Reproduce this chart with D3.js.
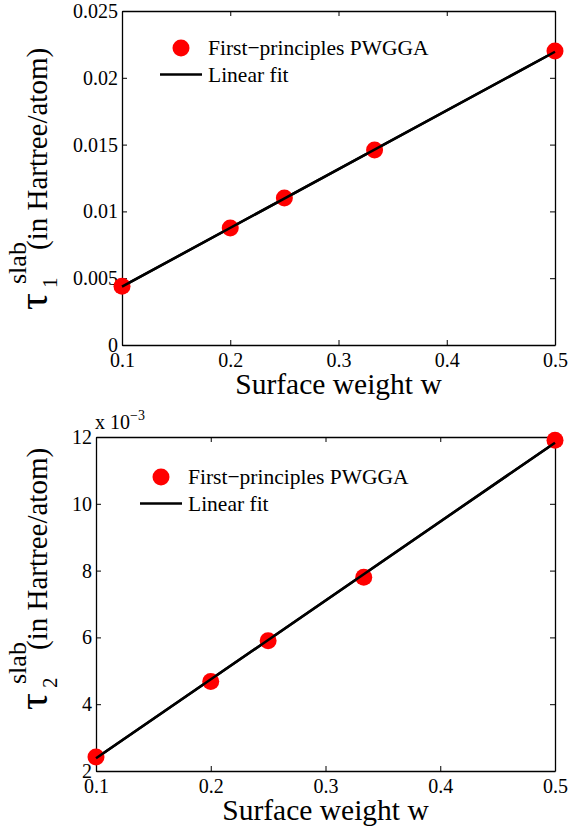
<!DOCTYPE html>
<html>
<head>
<meta charset="utf-8">
<script src="https://d3js.org/d3.v7.min.js"></script>
<style>
  body { margin: 0; background: #fff; }
</style>
</head>
<body>
<div id="chart"></div>
<script>
(function() {
    var width = 568, height = 832;
    var serif = "'Liberation Serif', 'Times New Roman', serif";

    // surface weights w (shared by both panels)
    var weights = [0.1, 0.2, 0.25, 1 / 3, 0.5];
    var xTicks = [0.1, 0.2, 0.3, 0.4, 0.5];

    // panel 1: tau1 slab
    var tau1 = [0.0044, 0.00876, 0.0110, 0.0146, 0.0220];
    var fit1 = [[0.1, 0.00437], [0.5, 0.02195]];
    var yTicks1 = [0, 0.005, 0.01, 0.015, 0.02, 0.025];

    // panel 2: tau2 slab (x 10^-3)
    var tau2 = [2.42, 4.68, 5.9, 7.8, 11.9];
    var fit2 = [[0.1, 2.38], [0.5, 11.83]];
    var yTicks2 = [2, 4, 6, 8, 10, 12];

    var legendLabels = ["First\u2212principles PWGGA", "Linear fit"];

    var svg = d3.select("#chart")
        .append("svg")
        .attr("width", width)
        .attr("height", height)

    function panel(opt) {
        var x = d3.scaleLinear().domain([0.1, 0.5]).range([opt.left, opt.right]);
        var y = d3.scaleLinear().domain(opt.yDomain).range([opt.bottom, opt.top]);
        var g = svg.append("g");
        var line = d3.line()
            .x(function(d) { return x(d[0]); })
            .y(function(d) { return y(d[1]); });

        // box + mirrored inward ticks
        var axes = [
            {ax: d3.axisBottom(x), tx: 0, ty: opt.bottom, ticks: xTicks, fmt: opt.fmt[0]},
            {ax: d3.axisTop(x), tx: 0, ty: opt.top, ticks: xTicks, fmt: ""},
            {ax: d3.axisLeft(y), tx: opt.left, ty: 0, ticks: opt.yTicks, fmt: opt.fmt[1]},
            {ax: d3.axisRight(y), tx: opt.right, ty: 0, ticks: opt.yTicks, fmt: ""}
        ];
        axes.forEach(function(a, i) {
            var ag = g.append("g")
                .attr("transform", "translate(" + a.tx + "," + a.ty + ")")
                .call(a.ax.tickValues(a.ticks).tickSizeInner(-5).tickSizeOuter(0).tickFormat(a.fmt));
            ag.attr("font-family", serif).attr("font-size", null);
            ag.select(".domain").attr("stroke-width", 1.3);
            ag.selectAll(".tick line").attr("stroke-width", 1);
            ag.selectAll("text").style("font-size", "20px");
            if (i === 0) ag.selectAll("text").attr("y", 22).attr("dy", 0);
            if (i === 2) ag.selectAll("text").attr("x", -4);
        });

        // fit line (under the points)
        g.append("path")
            .datum(opt.fit)
            .attr("fill", "none")
            .attr("stroke", "#000")
            .attr("stroke-width", 2.5)
            .attr("d", line);

        // data points
        g.selectAll(".pt")
            .data(weights.map(function(w, i) { return [w, opt.values[i]]; }))
            .enter().append("circle")
            .attr("class", "pt")
            .attr("cx", function(d) { return x(d[0]); })
            .attr("cy", function(d) { return y(d[1]); })
            .attr("r", 8.5)
            .attr("fill", "#ff0000");

        // fit drawn again on top, as in the original figure
        g.append("path")
            .datum(opt.fit)
            .attr("fill", "none")
            .attr("stroke", "#000")
            .attr("stroke-width", 2.5)
            .attr("d", line);

        // legend
        var lg = g.append("g").attr("transform", "translate(" + opt.legend[0] + "," + opt.legend[1] + ")");
        lg.append("circle").attr("cx", 0).attr("cy", 0).attr("r", 8.5).attr("fill", "#ff0000");
        lg.append("line").attr("x1", -21).attr("x2", 21).attr("y1", 26.5).attr("y2", 26.5)
            .attr("stroke", "#000").attr("stroke-width", 2.5);
        lg.selectAll("text.lab").data(legendLabels).enter().append("text")
            .attr("class", "lab")
            .attr("x", 27)
            .attr("y", function(d, i) { return 7 + i * 27; })
            .style("font-size", "21.5px")
            .text(function(d) { return d; });

        // x title
        g.append("text")
            .attr("x", (opt.left + opt.right) / 2)
            .attr("y", opt.bottom + 49)
            .attr("text-anchor", "middle")
            .style("font-size", "29.5px")
            .text("Surface weight w");

        // y title, laid out from its lower end upward
        var yt = g.append("text")
            .attr("transform", "translate(47," + opt.yTitleStart + ") rotate(-90)")
            .style("font-size", "29px");
        yt.append("tspan").attr("x", 0).attr("y", 0).style("font-size", "42px").text("\u03c4");
        yt.append("tspan").attr("x", 22).attr("y", 10).style("font-size", "21px").text(opt.sub);
        yt.append("tspan").attr("x", 26).attr("y", -21).style("font-size", "26px").text("slab");
        yt.append("tspan").attr("x", 60).attr("y", 0).text("(in Hartree/atom)");

        return g;
    }

    panel({
        left: 122, right: 555, top: 11, bottom: 345,
        yDomain: [0, 0.025], yTicks: yTicks1, values: tau1, fit: fit1,
        fmt: [d3.format(""), function(d) { return d === 0 ? "0" : String(+d.toFixed(3)); }],
        legend: [181, 48], sub: "1", yTitleStart: 310
    });

    var g2 = panel({
        left: 96, right: 555, top: 437, bottom: 771,
        yDomain: [2, 12], yTicks: yTicks2, values: tau2, fit: fit2,
        fmt: [d3.format(""), d3.format("d")],
        legend: [161, 477], sub: "2", yTitleStart: 710
    });

    // exponent label
    var ex = g2.append("text").attr("x", 95).attr("y", 429).style("font-size", "20px");
    ex.append("tspan").text("x 10");
    ex.append("tspan").attr("dy", -9).style("font-size", "14px").text("\u22123");

    // every label in a Times-like face
    svg.selectAll("text").style("font-family", serif).style("fill", "#000");
})();
</script>
</body>
</html>
